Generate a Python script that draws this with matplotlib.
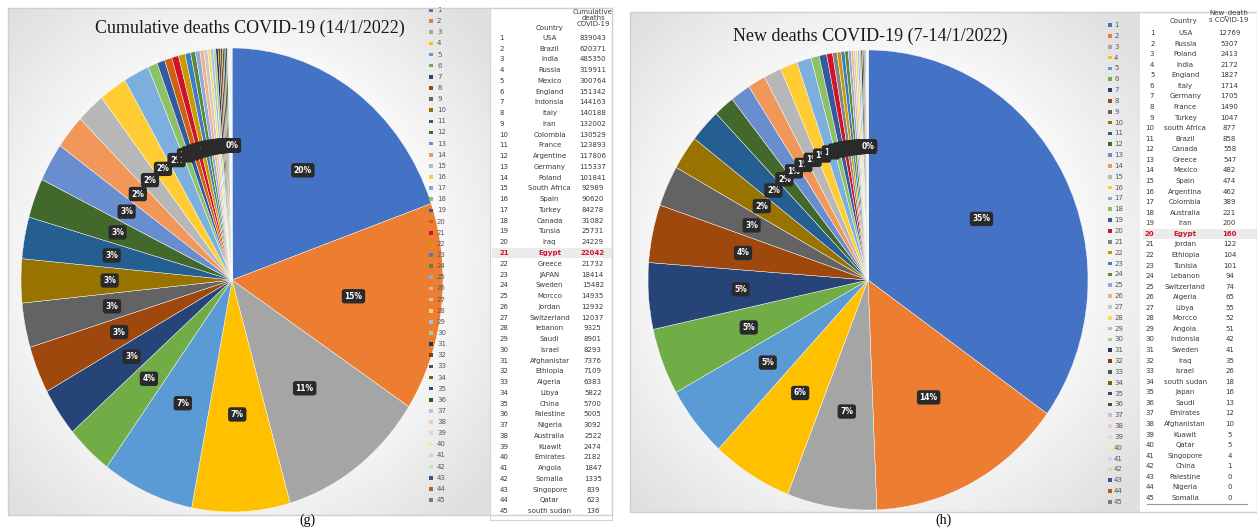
import numpy as np
import matplotlib
matplotlib.use("Agg")
import matplotlib.pyplot as plt
from matplotlib.patches import Rectangle

# ---------------- data ----------------
countries_cum = ["USA", "Brazil", "India", "Russia", "Mexico", "England", "Indonsia", "Italy", "Iran",
                 "Colombia", "France", "Argentine", "Germany", "Poland", "South Africa", "Spain", "Turkey",
                 "Canada", "Tunsia", "Iraq", "Egypt", "Greece", "JAPAN", "Sweden", "Morcco", "Jordan",
                 "Switzerland", "lebanon", "Saudi", "Israel", "Afghanistar", "Ethiopia", "Algeria", "Libya",
                 "China", "Falestine", "Nigeria", "Australia", "Kuawit", "Emirates", "Angola", "Somalia",
                 "Singopore", "Qatar", "south sudan"]
deaths_cum = [839043, 620371, 485350, 319911, 300764, 151342, 144163, 140188, 132002, 130529, 123893,
              117806, 115337, 101841, 92989, 90620, 84278, 31082, 25731, 24229, 22042, 21732, 18414,
              15482, 14935, 12932, 12037, 9325, 8901, 8293, 7376, 7109, 6383, 5822, 5700, 5005, 3092,
              2522, 2474, 2182, 1847, 1335, 839, 623, 136]

countries_new = ["USA", "Russia", "Poland", "India", "England", "Italy", "Germany", "France", "Turkey",
                 "south Africa", "Brazil", "Canada", "Greece", "Mexico", "Spain", "Argentina", "Colombia",
                 "Australia", "Iran", "Egypt", "Jordan", "Ethiopia", "Tunisia", "Lebanon", "Switzerland",
                 "Algeria", "Libya", "Morcco", "Angola", "Indonsia", "Sweden", "Iraq", "Israel",
                 "south sudan", "Japan", "Saudi", "Emirates", "Afghanistan", "Kuawit", "Qatar",
                 "Singopore", "China", "Palestine", "Nigeria", "Somalia"]
deaths_new = [12769, 5307, 2413, 2172, 1827, 1714, 1705, 1490, 1047, 877, 858, 558, 547, 482, 474, 462,
              389, 221, 200, 160, 122, 104, 101, 94, 74, 65, 55, 52, 51, 42, 41, 35, 26, 18, 16, 13, 12,
              10, 5, 5, 4, 1, 0, 0, 0]

title_cum = "Cumulative deaths COVID-19 (14/1/2022)"
title_new = "New deaths COVID-19 (7-14/1/2022)"
header_cum = "Cumulative\ndeaths\nCOVID-19"
header_new = "New_death\ns COVID-19"
egypt_cum = 21
egypt_new = 20

# Excel office palette with variations
palette = (['#4472C4', '#ED7D31', '#A5A5A5', '#FFC000', '#5B9BD5', '#70AD47'] +
           ['#264478', '#9E480E', '#636363', '#997300', '#255E91', '#43682B'] +
           ['#698ED0', '#F1975A', '#B7B7B7', '#FFCD33', '#7CAFDD', '#8CC168'] +
           ['#335AA1', '#D26012', '#848484', '#CC9A00', '#3C7DC4', '#5A8A39'] +
           ['#8FAADC', '#F4B183', '#C9C9C9', '#FFD966', '#9DC3E6', '#A9D18E'] +
           ['#203864', '#843C0C', '#525252', '#7F6000', '#1F4E79', '#385723'] +
           ['#B4C7E7', '#F8CBAD', '#DBDBDB', '#FFE699', '#BDD7EE', '#C5E0B4'] +
           ['#2F5597', '#C55A11', '#7B7B7B'])
RED = '#D0132A'

W, H = 1257, 528
fig = plt.figure(figsize=(W / 100, H / 100), dpi=100)
fig.patch.set_facecolor('white')


def box(x0, y0, x1, y1):
    return [x0 / W, 1 - y1 / H, (x1 - x0) / W, (y1 - y0) / H]


def panel_bg(x0, y0, x1, y1):
    ax = fig.add_axes(box(x0, y0, x1, y1))
    yy, xx = np.mgrid[0:1:300j, 0:1:300j]
    r = np.hypot((xx - 0.48) / 0.5, (yy - 0.5) / 0.5)
    g = 0.985 - 0.11 * np.clip((r - 0.75) / 0.6, 0, 1)
    ax.imshow(g, cmap='gray', vmin=0, vmax=1, extent=[0, 1, 0, 1], aspect='auto')
    ax.set_axis_off()
    return ax


def white_box(x0, y0, x1, y1, edge):
    ax = fig.add_axes(box(x0, y0, x1, y1))
    ax.set_facecolor('white')
    ax.set_xticks([])
    ax.set_yticks([])
    for s in ax.spines.values():
        s.set_color(edge)
        s.set_linewidth(0.8)
        s.set_visible(edge != 'none')
    return ax


def draw_pie(rect, values, colors, pctdist):
    ax = fig.add_axes(rect)
    wedges, texts, autotexts = ax.pie(values, colors=colors, startangle=90, counterclock=False,
                                      autopct='%1.0f%%', pctdistance=pctdist,
                                      wedgeprops=dict(edgecolor='white', linewidth=0.3))
    ax.set_aspect('auto')
    ax.set_xlim(-1, 1)
    ax.set_ylim(-1, 1)
    for t in autotexts:
        t.set_color('white')
        t.set_fontsize(5.5)
        t.set_fontweight('bold')
        t.set_fontfamily('DejaVu Sans')
        t.set_bbox(dict(boxstyle='round,pad=0.35', fc='#2a2a2a', ec='none'))
    ax.set_axis_off()
    return ax


def draw_legend(x0, y0, x1, y1, colors):
    ax = fig.add_axes(box(x0, y0, x1, y1))
    idx = np.arange(1, len(colors) + 1)
    ax.scatter(np.full(len(idx), 0.12), idx, marker='s', s=7, c=colors, linewidths=0)
    for i in idx:
        ax.text(0.24, i, str(i), fontsize=5, color='#595959', va='center', ha='left',
                family='DejaVu Sans')
    ax.set_xlim(0, 1)
    ax.set_ylim(len(idx) + 0.5, 0.5)
    ax.set_axis_off()


def draw_table(x0, y0, x1, y1, names, vals, highlight, xs, idx_ha):
    ax = fig.add_axes(box(x0, y0, x1, y1))
    ax.patch.set_alpha(0)
    n = len(names)
    ax.set_xlim(0, 1)
    ax.set_ylim(n + 0.5, 0.5)
    ax.axhspan(highlight - 0.5, highlight + 0.5, color='#ebebeb', lw=0)
    for i in range(1, n + 1):
        c = RED if i == highlight else '#3a3a3a'
        w = 'bold' if i == highlight else 'normal'
        ax.text(xs[0], i, str(i), fontsize=5, color=c, ha=idx_ha, va='center', weight=w,
                family='DejaVu Sans')
        ax.text(xs[1], i, names[i - 1], fontsize=5, color=c, ha='center', va='center', weight=w,
                family='DejaVu Sans')
        ax.text(xs[2], i, str(vals[i - 1]), fontsize=5, color=c, ha='center', va='center', weight=w,
                family='DejaVu Sans')
    ax.set_axis_off()
    return ax


# ---------------- left panel ----------------
panel_bg(8, 8, 490, 515)
fig.add_artist(Rectangle((8 / W, 1 - 515 / H), 604 / W, 507 / H, transform=fig.transFigure,
                         fill=False, ec='#cfcfcf', lw=1))
white_box(490, 8, 612, 520, '#d4d4d4')

colors_cum = list(palette[:len(deaths_cum)])
colors_cum[egypt_cum - 1] = RED
draw_pie(box(21, 48, 443, 512), deaths_cum, colors_cum, 0.58)
fig.text(250 / W, 1 - 28 / H, title_cum, fontsize=13, family='Liberation Serif',
         ha='center', va='center', color='#1a1a1a')
draw_legend(425, 4.4, 475, 505.6, colors_cum)
draw_table(492, 32.6, 612, 516.4, countries_cum, deaths_cum, egypt_cum, [0.06, 0.48, 0.84], 'left')
fig.text(550 / W, 1 - 28 / H, "Country", fontsize=5, color='#3a3a3a', ha='center', va='center')
fig.text(593 / W, 1 - 18 / H, header_cum, fontsize=5, color='#3a3a3a', ha='center', va='center',
         linespacing=1.1)

# ---------------- right panel ----------------
panel_bg(630, 12, 1140, 512)
fig.add_artist(Rectangle((630 / W, 1 - 512 / H), 627 / W, 500 / H, transform=fig.transFigure,
                         fill=False, ec='#cfcfcf', lw=1))
white_box(1140, 13, 1256, 511, 'none')

colors_new = list(palette[:len(deaths_new)])
colors_new[egypt_new - 1] = RED
draw_pie(box(648, 50, 1088, 510), deaths_new, colors_new, 0.58)
fig.text(870 / W, 1 - 36 / H, title_new, fontsize=13, family='Liberation Serif',
         ha='center', va='center', color='#1a1a1a')
draw_legend(1106, 19.6, 1140, 507.4, colors_new)
draw_table(1143, 27.7, 1257, 503.3, countries_new, deaths_new, egypt_new, [0.1, 0.37, 0.76], 'right')
fig.text(1183 / W, 1 - 21 / H, "Country", fontsize=5, color='#3a3a3a', ha='center', va='center')
fig.text(1229 / W, 1 - 16 / H, header_new, fontsize=5, color='#3a3a3a', ha='center', va='center',
         linespacing=1.1)
fig.add_artist(plt.Line2D([1147 / W, 1247 / W], [1 - 504 / H, 1 - 504 / H], transform=fig.transFigure,
                          color='#8a9bb8', lw=0.8))

# captions
fig.text(307 / W, 1 - 520 / H, "(g)", fontsize=10, family='Liberation Serif', ha='center', va='center')
fig.text(943 / W, 1 - 520 / H, "(h)", fontsize=10, family='Liberation Serif', ha='center', va='center')

fig.savefig("out.png", dpi=100, facecolor='white')
